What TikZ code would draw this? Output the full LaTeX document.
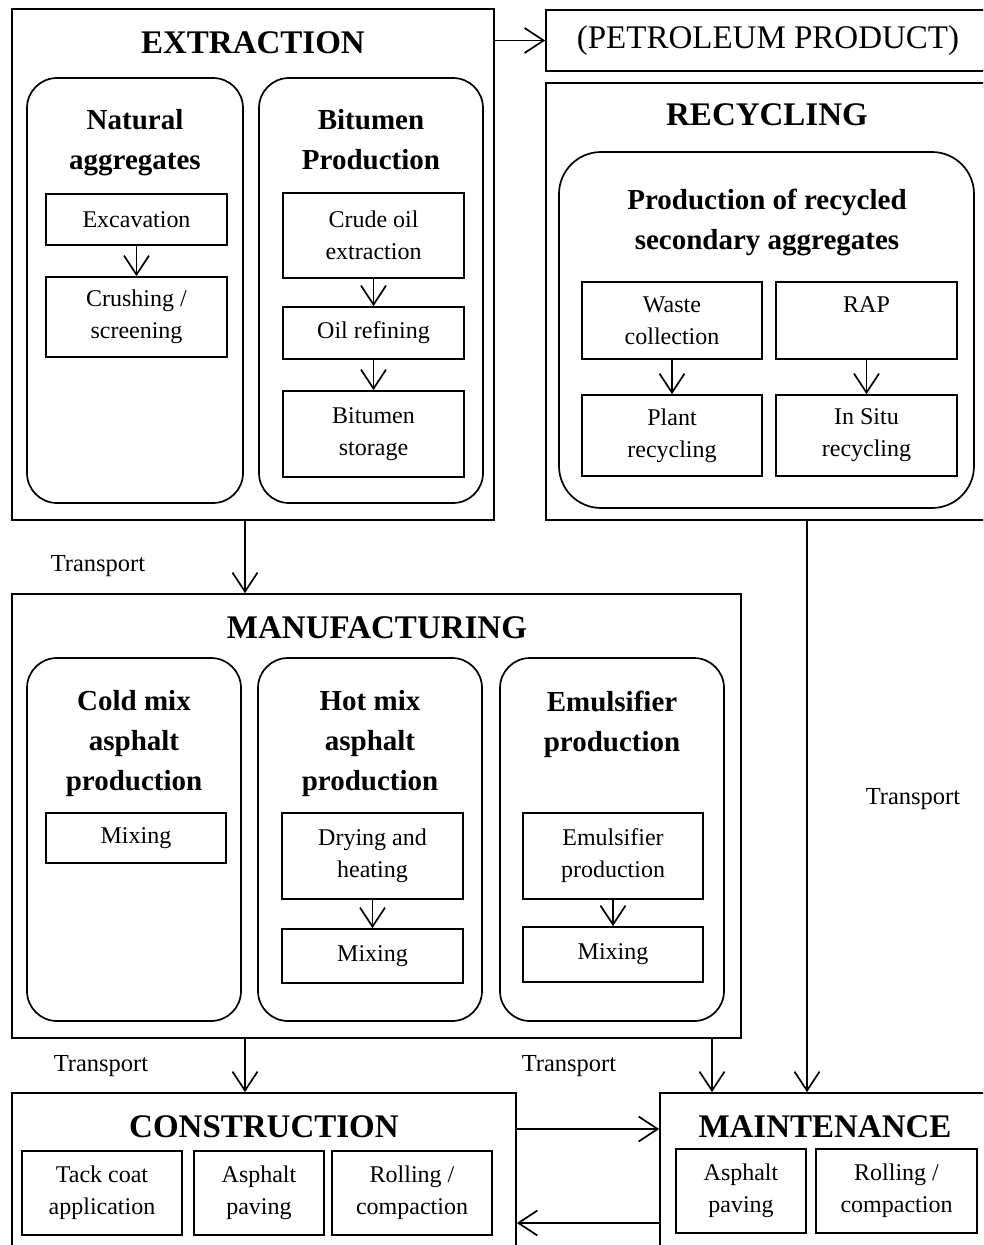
\documentclass[tikz,border=0pt]{standalone}
\usepackage{fontspec}
\setmainfont{Liberation Serif}
\usetikzlibrary{arrows.meta}
\begin{document}
\begin{tikzpicture}[x=1pt,y=-1pt,
  sz/.style 2 args={minimum width=#1, minimum height=#2},
  frame/.style={draw, line width=1.7pt, inner sep=0pt},
  panel/.style={draw, line width=1.7pt, inner sep=0pt, rounded corners=30pt},
  stepbox/.style={draw, line width=1.7pt, inner sep=0pt, align=center,
    font=\fontsize{24}{32}\selectfont},
  title/.style={font=\fontsize{33}{40}\selectfont\bfseries, inner sep=0pt},
  head/.style={font=\fontsize{29}{40}\selectfont\bfseries, align=center, inner sep=0pt},
  lbl/.style={font=\fontsize{24.5}{28}\selectfont, inner sep=0pt},
  flow/.style={line width=1.7pt, -{Straight Barb[length=19pt,width=25pt,line width=1.7pt]}},
]
\path[fill=white] (0,0) rectangle (983,1245);
\clip (0,0) rectangle (983,1245);

% ---------- Extraction ----------
\node[frame, sz={482}{511}] (ext) at (253,264.5) {};
\node[title] (extT) at (253,43) {EXTRACTION};
\node[panel, sz={216}{425}] (nat) at (135,290.5) {};
\node[head] (natT) at (135,142.5) {Natural\\aggregates};
\node[stepbox, sz={181}{51}] (exc) at (136.5,219.5) {Excavation};
\node[stepbox, sz={181}{80}] (crush) at (136.5,317) {Crushing /\\screening};
\node[panel, sz={224}{425}] (bit) at (371,290.5) {};
\node[head] (bitT) at (371,140) {Bitumen\\Production};
\node[stepbox, sz={181}{85}] (crude) at (373.5,235.5) {Crude oil\\extraction};
\node[stepbox, sz={181}{52}] (refine) at (373.5,333) {Oil refining};
\node[stepbox, sz={181}{86}] (store) at (373.5,434) {Bitumen\\storage};

% ---------- Petroleum product and recycling ----------
\node[frame, sz={444}{61}, font=\fontsize{33}{40}\selectfont] (petro) at (768,40.5) {(PETROLEUM PRODUCT)};
\node[frame, sz={444}{437}] (recyc) at (768,301.5) {};
\node[title] (recycT) at (767,115) {RECYCLING};
\node[panel, rounded corners=42pt, sz={415}{356}] (sec) at (766.5,330) {};
\node[head] (secT) at (767,222) {Production of recycled\\secondary aggregates};
\node[stepbox, sz={180}{77}] (waste) at (672,320.5) {Waste\\collection};
\node[stepbox, sz={181}{77}] (rap) at (866.5,320.5) {RAP\\\mbox{}};
\node[stepbox, sz={180}{81}] (plant) at (672,435.5) {Plant\\recycling};
\node[stepbox, sz={181}{81}] (insitu) at (866.5,435.5) {In Situ\\recycling};

% ---------- Manufacturing ----------
\node[frame, sz={729}{444}] (manu) at (376.5,816) {};
\node[title] (manuT) at (377,628) {MANUFACTURING};
\node[panel, sz={214}{363}] (cold) at (134,839.5) {};
\node[head] (coldT) at (134,744) {Cold mix\\asphalt\\production};
\node[stepbox, sz={180}{50}] (mixc) at (136,838) {Mixing};
\node[panel, sz={224}{363}] (hot) at (370,839.5) {};
\node[head] (hotT) at (370,744) {Hot mix\\asphalt\\production};
\node[stepbox, sz={181}{86}] (dry) at (372.5,856) {Drying and\\heating};
\node[stepbox, sz={181}{54}] (mixh) at (372.5,956) {Mixing};
\node[panel, sz={224}{363}] (emul) at (612,839.5) {};
\node[head] (emulT) at (612,724) {Emulsifier\\production};
\node[stepbox, sz={180}{86}] (emp) at (613,856) {Emulsifier\\production};
\node[stepbox, sz={180}{55}] (mixe) at (613,954.5) {Mixing};

% ---------- Construction and maintenance ----------
\node[frame, sz={504}{177}] (cons) at (264,1181.5) {};
\node[title] (consT) at (264,1127) {CONSTRUCTION};
\node[stepbox, sz={160}{84}] (tack) at (102,1193) {Tack coat\\application};
\node[stepbox, sz={130}{84}] (pave) at (259,1193) {Asphalt\\paving};
\node[stepbox, sz={160}{84}] (roll) at (412,1193) {Rolling /\\compaction};
\node[frame, sz={330}{177}] (maint) at (825,1181.5) {};
\node[title] (maintT) at (825,1127) {MAINTENANCE};
\node[stepbox, sz={130}{84}] (mpave) at (741,1191) {Asphalt\\paving};
\node[stepbox, sz={161}{84}] (mroll) at (896.5,1191) {Rolling /\\compaction};

% ---------- Transport labels ----------
\node[lbl] (tr1) at (98,566) {Transport};
\node[lbl] (tr2) at (101,1066) {Transport};
\node[lbl] (tr3) at (569,1066) {Transport};
\node[lbl] (tr4) at (913,799) {Transport};

% ---------- Connectors ----------
\coordinate (xa) at (245,0);
\coordinate (xb) at (712,0);
\coordinate (xc) at (807,0);
\coordinate (ya) at (0,1129);
\coordinate (yb) at (0,1223);
\draw[flow] (ext.east |- petro.west) -- (petro.west);
\draw[flow] (ext.south -| xa) -- (manu.north -| xa);
\draw[flow] (manu.south -| xa) -- (cons.north -| xa);
\draw[flow] (manu.south -| xb) -- (maint.north -| xb);
\draw[flow] (recyc.south -| xc) -- (maint.north -| xc);
\draw[flow] (cons.east |- ya) -- (maint.west |- ya);
\draw[flow] (maint.west |- yb) -- (cons.east |- yb);

\draw[flow] (exc) -- (crush);
\draw[flow] (crude) -- (refine);
\draw[flow] (refine) -- (store);
\draw[flow] (waste) -- (plant);
\draw[flow] (rap) -- (insitu);
\draw[flow] (dry) -- (mixh);
\draw[flow] (emp) -- (mixe);
\end{tikzpicture}
\end{document}
